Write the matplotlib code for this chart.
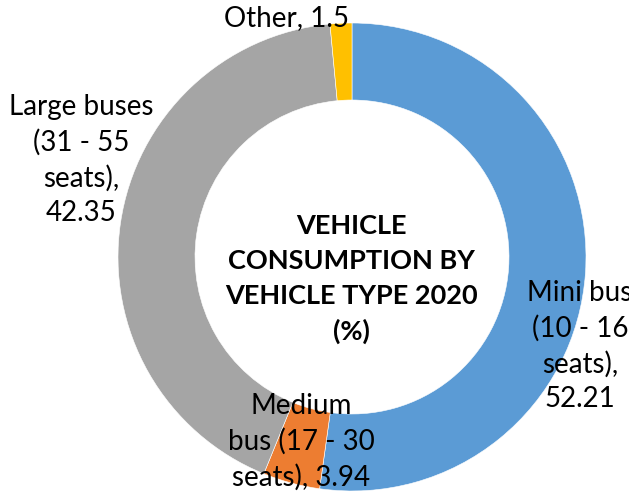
import matplotlib
matplotlib.use("Agg")
import matplotlib.pyplot as plt

categories = ["Mini bus\n(10 - 16\nseats),", "Medium\nbus (17 - 30\nseats),", "Large buses\n(31 - 55\nseats),", "Other,"]
values = [52.21, 3.94, 42.35, 1.5]
value_labels = ["52.21", "3.94", "42.35", "1.5"]
colors = ["#5B9BD5", "#ED7D31", "#A5A5A5", "#FFC000"]
title = "VEHICLE\nCONSUMPTION BY\nVEHICLE TYPE 2020\n(%)"

W, H = 629, 492
fig = plt.figure(figsize=(W / 100, H / 100), dpi=100)
ax = fig.add_axes([0, 0, 1, 1])

cx, cy, R = 352, H - 257, 234
ax.pie(values, colors=colors, startangle=90, counterclock=False,
       center=(cx, cy), radius=R, frame=True,
       wedgeprops=dict(width=77, edgecolor="white", linewidth=0.4))
ax.set_xlim(0, W)
ax.set_ylim(0, H)
ax.set_aspect("equal")
ax.axis("off")

font = "Lato"
fs = 20
label_pos = [(580, H - 346), (301, H - 442), (81, H - 160), (287, H - 18)]
for cat, val, (x, y) in zip(categories, value_labels, label_pos):
    if cat.endswith("Other,") or cat.startswith("Medium"):
        txt = cat + " " + val
    else:
        txt = cat + "\n" + val
    ax.text(x, y, txt, ha="center", va="center", fontsize=fs, family=font,
            linespacing=1.42, color="black")

ax.text(351, H - 279, title, ha="center", va="center", fontsize=19.5,
        family=font, fontweight="bold", linespacing=1.55, color="black")

fig.savefig("out.png", dpi=100)
